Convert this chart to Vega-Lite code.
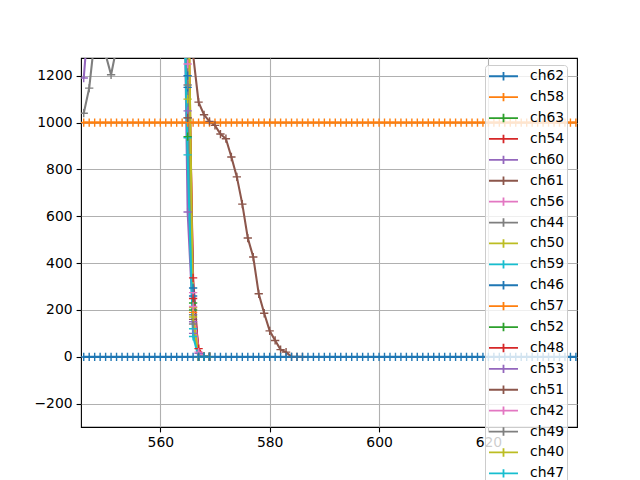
{
  "$schema": "https://vega.github.io/schema/vega-lite/v6.json",
  "autosize": {"type": "none"},
  "padding": {"left": 81, "top": 58, "right": 63, "bottom": 53},
  "width": 496,
  "height": 369,
  "background": "white",
  "config": {
    "view": {"stroke": "black", "strokeWidth": 1.1},
    "font": "DejaVu Sans",
    "axis": {
      "labelFont": "DejaVu Sans", "labelFontSize": 13.9, "labelColor": "black",
      "tickColor": "black", "tickSize": 4.9, "tickWidth": 1.1, "labelPadding": 4,
      "domain": false, "grid": true, "gridColor": "#b0b0b0", "gridWidth": 1.1, "title": null
    }
  },
  "data": {"values": [
    {"c":"ch62","x":564,"y":2600},{"c":"ch62","x":565,"y":1150},{"c":"ch62","x":566,"y":260},{"c":"ch62","x":567,"y":0},{"c":"ch62","x":568,"y":0},{"c":"ch62","x":569,"y":0},
    {"c":"ch58","x":546,"y":1000},{"c":"ch58","x":547,"y":1000},{"c":"ch58","x":548,"y":1000},{"c":"ch58","x":549,"y":1000},{"c":"ch58","x":550,"y":1000},{"c":"ch58","x":551,"y":1000},{"c":"ch58","x":552,"y":1000},{"c":"ch58","x":553,"y":1000},{"c":"ch58","x":554,"y":1000},{"c":"ch58","x":555,"y":1000},{"c":"ch58","x":556,"y":1000},{"c":"ch58","x":557,"y":1000},{"c":"ch58","x":558,"y":1000},{"c":"ch58","x":559,"y":1000},{"c":"ch58","x":560,"y":1000},{"c":"ch58","x":561,"y":1000},{"c":"ch58","x":562,"y":1000},{"c":"ch58","x":563,"y":1000},{"c":"ch58","x":564,"y":1000},{"c":"ch58","x":565,"y":1000},{"c":"ch58","x":566,"y":1000},{"c":"ch58","x":567,"y":1000},{"c":"ch58","x":568,"y":1000},{"c":"ch58","x":569,"y":1000},{"c":"ch58","x":570,"y":1000},{"c":"ch58","x":571,"y":1000},{"c":"ch58","x":572,"y":1000},{"c":"ch58","x":573,"y":1000},{"c":"ch58","x":574,"y":1000},{"c":"ch58","x":575,"y":1000},{"c":"ch58","x":576,"y":1000},{"c":"ch58","x":577,"y":1000},{"c":"ch58","x":578,"y":1000},{"c":"ch58","x":579,"y":1000},{"c":"ch58","x":580,"y":1000},{"c":"ch58","x":581,"y":1000},{"c":"ch58","x":582,"y":1000},{"c":"ch58","x":583,"y":1000},{"c":"ch58","x":584,"y":1000},{"c":"ch58","x":585,"y":1000},{"c":"ch58","x":586,"y":1000},{"c":"ch58","x":587,"y":1000},{"c":"ch58","x":588,"y":1000},{"c":"ch58","x":589,"y":1000},{"c":"ch58","x":590,"y":1000},{"c":"ch58","x":591,"y":1000},{"c":"ch58","x":592,"y":1000},{"c":"ch58","x":593,"y":1000},{"c":"ch58","x":594,"y":1000},{"c":"ch58","x":595,"y":1000},{"c":"ch58","x":596,"y":1000},{"c":"ch58","x":597,"y":1000},{"c":"ch58","x":598,"y":1000},{"c":"ch58","x":599,"y":1000},{"c":"ch58","x":600,"y":1000},{"c":"ch58","x":601,"y":1000},{"c":"ch58","x":602,"y":1000},{"c":"ch58","x":603,"y":1000},{"c":"ch58","x":604,"y":1000},{"c":"ch58","x":605,"y":1000},{"c":"ch58","x":606,"y":1000},{"c":"ch58","x":607,"y":1000},{"c":"ch58","x":608,"y":1000},{"c":"ch58","x":609,"y":1000},{"c":"ch58","x":610,"y":1000},{"c":"ch58","x":611,"y":1000},{"c":"ch58","x":612,"y":1000},{"c":"ch58","x":613,"y":1000},{"c":"ch58","x":614,"y":1000},{"c":"ch58","x":615,"y":1000},{"c":"ch58","x":616,"y":1000},{"c":"ch58","x":617,"y":1000},{"c":"ch58","x":618,"y":1000},{"c":"ch58","x":619,"y":1000},{"c":"ch58","x":620,"y":1000},{"c":"ch58","x":621,"y":1000},{"c":"ch58","x":622,"y":1000},{"c":"ch58","x":623,"y":1000},{"c":"ch58","x":624,"y":1000},{"c":"ch58","x":625,"y":1000},{"c":"ch58","x":626,"y":1000},{"c":"ch58","x":627,"y":1000},{"c":"ch58","x":628,"y":1000},{"c":"ch58","x":629,"y":1000},{"c":"ch58","x":630,"y":1000},{"c":"ch58","x":631,"y":1000},{"c":"ch58","x":632,"y":1000},{"c":"ch58","x":633,"y":1000},{"c":"ch58","x":634,"y":1000},{"c":"ch58","x":635,"y":1000},{"c":"ch58","x":636,"y":1000},
    {"c":"ch63","x":564,"y":2400},{"c":"ch63","x":565,"y":1290},{"c":"ch63","x":566,"y":200},{"c":"ch63","x":567,"y":0},{"c":"ch63","x":568,"y":0},{"c":"ch63","x":569,"y":0},
    {"c":"ch54","x":564,"y":2800},{"c":"ch54","x":565,"y":1500},{"c":"ch54","x":566,"y":337},{"c":"ch54","x":567,"y":0},{"c":"ch54","x":568,"y":0},{"c":"ch54","x":569,"y":0},
    {"c":"ch60","x":546,"y":1190},{"c":"ch60","x":547,"y":1480},{"c":"ch60","x":564,"y":2200},{"c":"ch60","x":565,"y":618},{"c":"ch60","x":566,"y":150},{"c":"ch60","x":567,"y":0},{"c":"ch60","x":568,"y":0},{"c":"ch60","x":569,"y":0},
    {"c":"ch61","x":564,"y":3200},{"c":"ch61","x":565,"y":2200},{"c":"ch61","x":566,"y":1290},{"c":"ch61","x":567,"y":1087},{"c":"ch61","x":568,"y":1033},{"c":"ch61","x":569,"y":1005},{"c":"ch61","x":570,"y":988},{"c":"ch61","x":571,"y":951},{"c":"ch61","x":572,"y":931},{"c":"ch61","x":573,"y":853},{"c":"ch61","x":574,"y":768},{"c":"ch61","x":575,"y":652},{"c":"ch61","x":576,"y":507},{"c":"ch61","x":577,"y":426},{"c":"ch61","x":578,"y":269},{"c":"ch61","x":579,"y":186},{"c":"ch61","x":580,"y":111},{"c":"ch61","x":581,"y":70},{"c":"ch61","x":582,"y":31},{"c":"ch61","x":583,"y":20},{"c":"ch61","x":584,"y":0},{"c":"ch61","x":585,"y":0},{"c":"ch61","x":586,"y":0},
    {"c":"ch56","x":564,"y":2500},{"c":"ch56","x":565,"y":1400},{"c":"ch56","x":566,"y":274},{"c":"ch56","x":567,"y":0},{"c":"ch56","x":568,"y":0},{"c":"ch56","x":569,"y":0},
    {"c":"ch44","x":546,"y":1040},{"c":"ch44","x":547,"y":1147},{"c":"ch44","x":548,"y":1360},{"c":"ch44","x":549,"y":1500},{"c":"ch44","x":550,"y":1290},{"c":"ch44","x":551,"y":1204},{"c":"ch44","x":552,"y":1320},{"c":"ch44","x":553,"y":1550},{"c":"ch44","x":564,"y":2300},{"c":"ch44","x":565,"y":1020},{"c":"ch44","x":566,"y":180},{"c":"ch44","x":567,"y":0},{"c":"ch44","x":568,"y":0},{"c":"ch44","x":569,"y":0},
    {"c":"ch50","x":564,"y":2100},{"c":"ch50","x":565,"y":1100},{"c":"ch50","x":566,"y":210},{"c":"ch50","x":567,"y":0},{"c":"ch50","x":568,"y":0},{"c":"ch50","x":569,"y":0},
    {"c":"ch59","x":564,"y":2000},{"c":"ch59","x":565,"y":935},{"c":"ch59","x":566,"y":120},{"c":"ch59","x":567,"y":0},{"c":"ch59","x":568,"y":0},{"c":"ch59","x":569,"y":0},
    {"c":"ch46","x":564,"y":2700},{"c":"ch46","x":565,"y":1200},{"c":"ch46","x":566,"y":294},{"c":"ch46","x":567,"y":0},{"c":"ch46","x":568,"y":0},{"c":"ch46","x":569,"y":0},
    {"c":"ch57","x":564,"y":2600},{"c":"ch57","x":565,"y":1330},{"c":"ch57","x":566,"y":190},{"c":"ch57","x":567,"y":0},{"c":"ch57","x":568,"y":0},{"c":"ch57","x":569,"y":0},
    {"c":"ch52","x":564,"y":2200},{"c":"ch52","x":565,"y":940},{"c":"ch52","x":566,"y":230},{"c":"ch52","x":567,"y":0},{"c":"ch52","x":568,"y":0},{"c":"ch52","x":569,"y":0},
    {"c":"ch48","x":564,"y":3000},{"c":"ch48","x":565,"y":1700},{"c":"ch48","x":566,"y":249},{"c":"ch48","x":567,"y":35},{"c":"ch48","x":568,"y":0},{"c":"ch48","x":569,"y":0},
    {"c":"ch53","x":564,"y":2300},{"c":"ch53","x":565,"y":1050},{"c":"ch53","x":566,"y":100},{"c":"ch53","x":567,"y":15},{"c":"ch53","x":568,"y":0},{"c":"ch53","x":569,"y":0},
    {"c":"ch51","x":564,"y":2400},{"c":"ch51","x":565,"y":1020},{"c":"ch51","x":566,"y":160},{"c":"ch51","x":567,"y":0},{"c":"ch51","x":568,"y":0},{"c":"ch51","x":569,"y":0},
    {"c":"ch42","x":564,"y":2500},{"c":"ch42","x":565,"y":1250},{"c":"ch42","x":566,"y":215},{"c":"ch42","x":567,"y":20},{"c":"ch42","x":568,"y":0},{"c":"ch42","x":569,"y":0},
    {"c":"ch49","x":564,"y":2300},{"c":"ch49","x":565,"y":1160},{"c":"ch49","x":566,"y":140},{"c":"ch49","x":567,"y":0},{"c":"ch49","x":568,"y":0},{"c":"ch49","x":569,"y":0},
    {"c":"ch40","x":564,"y":3000},{"c":"ch40","x":565,"y":1800},{"c":"ch40","x":566,"y":170},{"c":"ch40","x":567,"y":0},{"c":"ch40","x":568,"y":0},{"c":"ch40","x":569,"y":0},
    {"c":"ch47","x":564,"y":1900},{"c":"ch47","x":565,"y":862},{"c":"ch47","x":566,"y":87},{"c":"ch47","x":567,"y":0},{"c":"ch47","x":568,"y":0},{"c":"ch47","x":569,"y":0},
    {"c":"ch45","x":546,"y":0},{"c":"ch45","x":547,"y":0},{"c":"ch45","x":548,"y":0},{"c":"ch45","x":549,"y":0},{"c":"ch45","x":550,"y":0},{"c":"ch45","x":551,"y":0},{"c":"ch45","x":552,"y":0},{"c":"ch45","x":553,"y":0},{"c":"ch45","x":554,"y":0},{"c":"ch45","x":555,"y":0},{"c":"ch45","x":556,"y":0},{"c":"ch45","x":557,"y":0},{"c":"ch45","x":558,"y":0},{"c":"ch45","x":559,"y":0},{"c":"ch45","x":560,"y":0},{"c":"ch45","x":561,"y":0},{"c":"ch45","x":562,"y":0},{"c":"ch45","x":563,"y":0},{"c":"ch45","x":564,"y":0},{"c":"ch45","x":565,"y":0},{"c":"ch45","x":566,"y":0},{"c":"ch45","x":567,"y":0},{"c":"ch45","x":568,"y":0},{"c":"ch45","x":569,"y":0},{"c":"ch45","x":570,"y":0},{"c":"ch45","x":571,"y":0},{"c":"ch45","x":572,"y":0},{"c":"ch45","x":573,"y":0},{"c":"ch45","x":574,"y":0},{"c":"ch45","x":575,"y":0},{"c":"ch45","x":576,"y":0},{"c":"ch45","x":577,"y":0},{"c":"ch45","x":578,"y":0},{"c":"ch45","x":579,"y":0},{"c":"ch45","x":580,"y":0},{"c":"ch45","x":581,"y":0},{"c":"ch45","x":582,"y":0},{"c":"ch45","x":583,"y":0},{"c":"ch45","x":584,"y":0},{"c":"ch45","x":585,"y":0},{"c":"ch45","x":586,"y":0},{"c":"ch45","x":587,"y":0},{"c":"ch45","x":588,"y":0},{"c":"ch45","x":589,"y":0},{"c":"ch45","x":590,"y":0},{"c":"ch45","x":591,"y":0},{"c":"ch45","x":592,"y":0},{"c":"ch45","x":593,"y":0},{"c":"ch45","x":594,"y":0},{"c":"ch45","x":595,"y":0},{"c":"ch45","x":596,"y":0},{"c":"ch45","x":597,"y":0},{"c":"ch45","x":598,"y":0},{"c":"ch45","x":599,"y":0},{"c":"ch45","x":600,"y":0},{"c":"ch45","x":601,"y":0},{"c":"ch45","x":602,"y":0},{"c":"ch45","x":603,"y":0},{"c":"ch45","x":604,"y":0},{"c":"ch45","x":605,"y":0},{"c":"ch45","x":606,"y":0},{"c":"ch45","x":607,"y":0},{"c":"ch45","x":608,"y":0},{"c":"ch45","x":609,"y":0},{"c":"ch45","x":610,"y":0},{"c":"ch45","x":611,"y":0},{"c":"ch45","x":612,"y":0},{"c":"ch45","x":613,"y":0},{"c":"ch45","x":614,"y":0},{"c":"ch45","x":615,"y":0},{"c":"ch45","x":616,"y":0},{"c":"ch45","x":617,"y":0},{"c":"ch45","x":618,"y":0},{"c":"ch45","x":619,"y":0},{"c":"ch45","x":620,"y":0},{"c":"ch45","x":621,"y":0},{"c":"ch45","x":622,"y":0},{"c":"ch45","x":623,"y":0},{"c":"ch45","x":624,"y":0},{"c":"ch45","x":625,"y":0},{"c":"ch45","x":626,"y":0},{"c":"ch45","x":627,"y":0},{"c":"ch45","x":628,"y":0},{"c":"ch45","x":629,"y":0},{"c":"ch45","x":630,"y":0},{"c":"ch45","x":631,"y":0},{"c":"ch45","x":632,"y":0},{"c":"ch45","x":633,"y":0},{"c":"ch45","x":634,"y":0},{"c":"ch45","x":635,"y":0},{"c":"ch45","x":636,"y":0}
  ]},
  "encoding": {
    "x": {"field": "x", "type": "quantitative", "scale": {"domain": [545.5, 636.2], "nice": false, "zero": false},
          "axis": {"values": [560, 580, 600, 620], "format": "d"}},
    "y": {"field": "y", "type": "quantitative", "scale": {"domain": [-299.4, 1275.5], "nice": false, "zero": false},
          "axis": {"values": [-200, 0, 200, 400, 600, 800, 1000, 1200], "format": "d"}},
    "color": {"field": "c", "type": "nominal",
      "scale": {
        "domain": ["ch62","ch58","ch63","ch54","ch60","ch61","ch56","ch44","ch50","ch59","ch46","ch57","ch52","ch48","ch53","ch51","ch42","ch49","ch40","ch47","ch45"],
        "range": ["#1f77b4","#ff7f0e","#2ca02c","#d62728","#9467bd","#8c564b","#e377c2","#7f7f7f","#bcbd22","#17becf","#1f77b4","#ff7f0e","#2ca02c","#d62728","#9467bd","#8c564b","#e377c2","#7f7f7f","#bcbd22","#17becf","#1f77b4"]
      },
      "legend": {
        "orient": "none", "legendX": 404, "legendY": 7, "title": null,
        "padding": 2.75, "fillColor": "rgba(255,255,255,0.8)", "strokeColor": "#cccccc", "cornerRadius": 3,
        "labelFont": "DejaVu Sans", "labelFontSize": 13.9, "labelColor": "black", "labelOffset": 25.25,
        "symbolType": "M-1,0L3,0M1,-0.58L1,0.58", "symbolSize": 210, "symbolStrokeWidth": 1.8,
        "rowPadding": 3.9, "labelLimit": 0
      }
    }
  },
  "layer": [
    {"mark": {"type": "line", "strokeWidth": 2.08, "clip": true}},
    {"mark": {"type": "point", "shape": "M-1,0L1,0M0,-1L0,1", "filled": false, "size": 69, "strokeWidth": 1.4, "opacity": 1, "clip": true}}
  ]
}
